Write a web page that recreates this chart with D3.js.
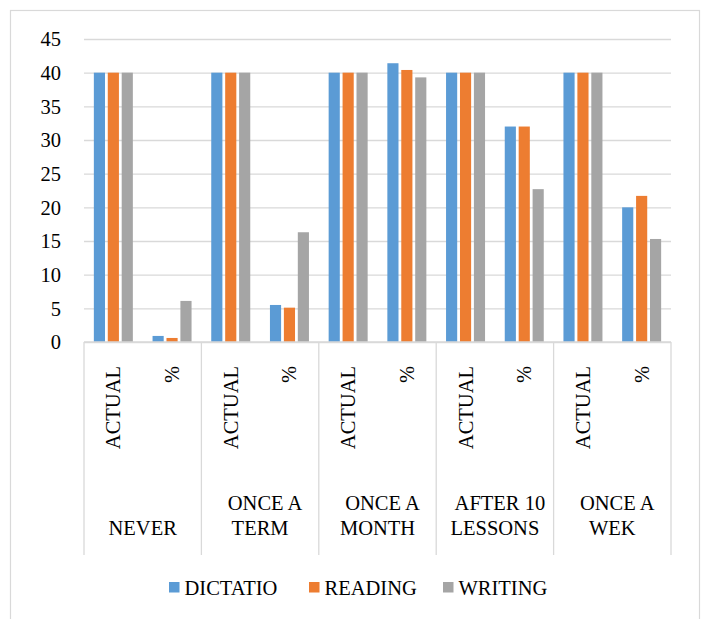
<!DOCTYPE html>
<html>
<head>
<meta charset="utf-8">
<script src="https://cdn.jsdelivr.net/npm/d3@7"></script>
<style>
  html, body { margin: 0; padding: 0; background: #fff; }
  svg { display: block; }
</style>
</head>
<body>
<svg id="chart" width="702" height="619"></svg>
<script>
// Frequency groups (two-line labels) and the two sub-columns in each group
const groups = [["NEVER"], ["ONCE A", "TERM"], ["ONCE A", "MONTH"], ["AFTER 10", "LESSONS"], ["ONCE A", "WEK"]];
const subLabels = ["ACTUAL", "%"];
const seriesNames = ["DICTATIO", "READING", "WRITING"];
const seriesColors = ["#5b9bd5", "#ed7d31", "#a5a5a5"];

// One value per sub-column (group × ACTUAL/%)
const dictatio = [40, 0.9, 40, 5.5, 40, 41.4, 40, 32, 40, 20];
const reading  = [40, 0.6, 40, 5.1, 40, 40.4, 40, 32, 40, 21.7];
const writing  = [40, 6.1, 40, 16.3, 40, 39.3, 40, 22.7, 40, 15.3];
const yTicks = [0, 5, 10, 15, 20, 25, 30, 35, 40, 45];

// Text uses the page's default (Times-style) serif face
const FS = 20.5;
const series = [dictatio, reading, writing];
const svg = d3.select("#chart");

// Outer chart frame
svg.append("rect")
  .attr("x", 10.5).attr("y", 10.5).attr("width", 689).attr("height", 640)
  .attr("fill", "none").attr("stroke", "#d9d9d9").attr("stroke-width", 1.2);

const plot = { left: 84, right: 671, top: 39, bottom: 342 };

const y = d3.scaleLinear().domain([0, 45]).range([plot.bottom, plot.top]);

const cols = d3.range(groups.length * subLabels.length);
const x = d3.scaleBand().domain(cols).range([plot.left, plot.right]);
const xg = d3.scaleBand().domain(d3.range(groups.length)).range([plot.left, plot.right]);
const inner = d3.scaleBand().domain(d3.range(series.length))
  .range([x.bandwidth() / 2 - 19.5, x.bandwidth() / 2 + 19.5]).paddingInner(0.2).paddingOuter(0);

// Gridlines and value axis labels
const yAxis = d3.axisLeft(y).tickValues(yTicks).tickSize(-(plot.right - plot.left)).tickPadding(23);
const gy = svg.append("g").attr("transform", `translate(${plot.left},0)`).call(yAxis)
  .attr("font-family", null).attr("font-size", null);
gy.select(".domain").remove();
gy.selectAll(".tick line").attr("stroke", "#d9d9d9").attr("stroke-width", 1.3);
gy.selectAll(".tick text").attr("dy", "0.34em").attr("fill", "#000").attr("font-size", FS);

// Bars
series.forEach((vals, si) => {
  svg.append("g").selectAll("rect")
    .data(vals)
    .join("rect")
    .attr("x", (d, i) => x(i) + inner(si))
    .attr("y", d => y(d))
    .attr("width", inner.bandwidth())
    .attr("height", d => y(0) - y(d))
    .attr("fill", seriesColors[si]);
});

// Category axis: baseline and group separators
const axisBottom = 555;
svg.append("line")
  .attr("x1", plot.left).attr("x2", plot.right)
  .attr("y1", y(0)).attr("y2", y(0))
  .attr("stroke", "#d9d9d9").attr("stroke-width", 1.3);
const sepX = d3.range(groups.length + 1).map(i => i < groups.length ? xg(i) : plot.right);
svg.append("g").selectAll("line")
  .data(sepX)
  .join("line")
  .attr("x1", d => d).attr("x2", d => d)
  .attr("y1", y(0)).attr("y2", axisBottom)
  .attr("stroke", "#d9d9d9").attr("stroke-width", 1.3);

// Rotated sub-column labels
svg.append("g").selectAll("text")
  .data(cols)
  .join("text")
  .attr("transform", i => `translate(${x(i) + x.bandwidth() / 2 + 7},366) rotate(-90)`)
  .attr("text-anchor", "end")
  .attr("font-size", FS)
  .text(i => subLabels[i % subLabels.length]);

// Group labels (one or two lines, bottom line on a common baseline)
const gl = svg.append("g").selectAll("text")
  .data(groups)
  .join("text")
  .attr("text-anchor", "middle")
  .attr("font-size", FS);
gl.each(function (lines, gi) {
  const t = d3.select(this);
  const cx = xg(gi) + xg.bandwidth() / 2;
  lines.forEach((ln, li) => {
    const base = 535 - (lines.length - 1 - li) * 25;
    t.append("tspan")
      .attr("x", cx + (lines.length > 1 && li === 0 ? 5 : 0))
      .attr("y", base)
      .text(ln);
  });
});

// Legend
const legendX = [169, 309, 443];
const lg = svg.append("g").selectAll("g")
  .data(seriesNames)
  .join("g")
  .attr("transform", (d, i) => `translate(${legendX[i]},582)`);
lg.append("rect").attr("width", 10.5).attr("height", 10.5)
  .attr("fill", (d, i) => seriesColors[i]);
lg.append("text").attr("x", 15.5).attr("y", 13)
  .attr("font-size", FS).text(d => d);
</script>
</body>
</html>
